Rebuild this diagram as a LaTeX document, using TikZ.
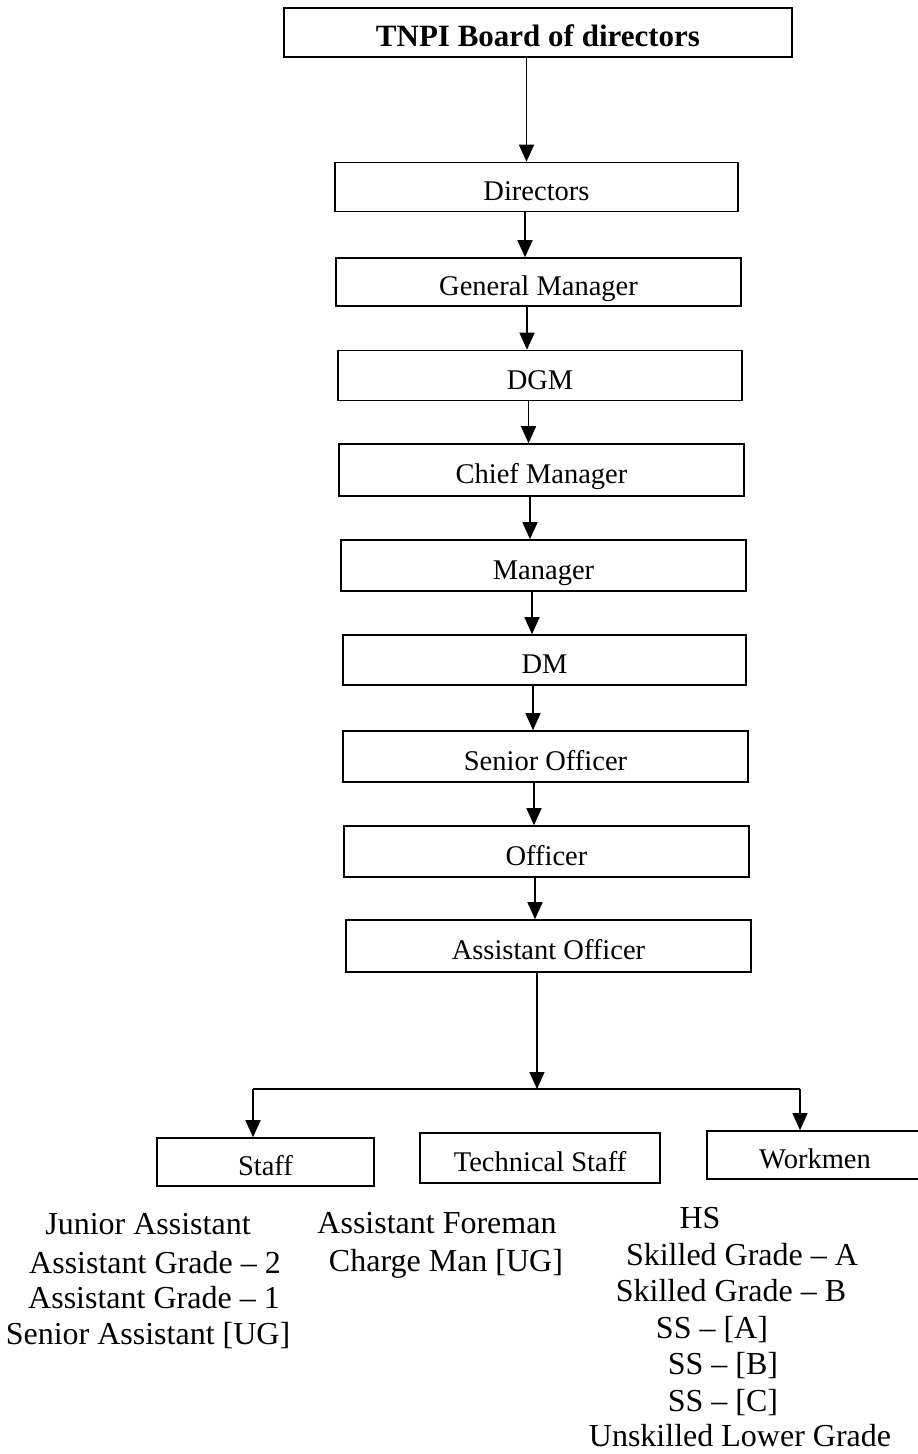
\documentclass[tikz,border=0pt]{standalone}
\usepackage{fontspec}
\setmainfont{Liberation Serif}
\usetikzlibrary{arrows.meta}
\newcommand\vlink[2]{\path ([xshift=-11.5pt]#1.south) coordinate (#1-out); \draw[arr] (#1-out) -- (#1-out |- #2.north);}
\begin{document}
\begin{tikzpicture}[x=1pt,y=-1pt,
  box/.style={draw, line width=1.6pt, inner sep=0pt, font=\fontsize{28.5}{34}\selectfont, text height=27pt, text depth=0pt, anchor=center},
  arr/.style={line width=1.5pt, -{Triangle[width=15pt,length=17pt]}},
  ln/.style={line width=1.5pt},
  item/.style={anchor=base, inner sep=0pt, font=\fontsize{32}{37}\selectfont}]
\useasboundingbox (0,0) rectangle (918,1454);
\fill[white] (0,0) rectangle (918,1454);

\node[box, minimum width=508pt, minimum height=49pt, font=\fontsize{31}{36}\selectfont\bfseries, text height=28pt] (board) at (538,32.5) {TNPI Board of directors};
\node[box, minimum width=403pt, minimum height=49pt] (dir) at (536.5,187) {Directors};
\node[box, minimum width=405pt, minimum height=48pt] (gm)  at (538.5,282) {General Manager};
\node[box, minimum width=404pt, minimum height=50pt] (dgm) at (540,375.5) {DGM};
\node[box, minimum width=405pt, minimum height=52pt] (cm)  at (541.5,470) {Chief Manager};
\node[box, minimum width=405pt, minimum height=51pt] (mgr) at (543.5,565.5) {Manager};
\node[box, minimum width=403pt, minimum height=50pt] (dm)  at (544.5,660) {DM};
\node[box, minimum width=405pt, minimum height=51pt] (so)  at (545.5,756.5) {Senior Officer};
\node[box, minimum width=405pt, minimum height=51pt] (off) at (546.5,851.5) {Officer};
\node[box, minimum width=405pt, minimum height=52pt] (ao)  at (548.5,946) {Assistant Officer};

\node[box, minimum width=217pt, minimum height=48pt] (staff) at (265.5,1162) {Staff};
\node[box, minimum width=240pt, minimum height=50pt] (tech)  at (540,1158) {Technical Staff};
\node[box, minimum width=216pt, minimum height=48pt] (work)  at (815,1155) {Workmen};

\vlink{board}{dir}
\vlink{dir}{gm}
\vlink{gm}{dgm}
\vlink{dgm}{cm}
\vlink{cm}{mgr}
\vlink{mgr}{dm}
\vlink{dm}{so}
\vlink{so}{off}
\vlink{off}{ao}

\coordinate (J) at (537,1089);
\coordinate (L) at (253,1089);
\coordinate (R) at (800,1089);
\draw[arr] (ao.south -| J) -- (J);
\draw[ln] (L) -- (R);
\draw[arr] (L) -- (L |- staff.north);
\draw[arr] (R) -- (R |- work.north);

\node[item] (s1) at (148,1234) {Junior Assistant};
\node[item] (s2) at (155,1273) {Assistant Grade – 2};
\node[item] (s3) at (154,1308) {Assistant Grade – 1};
\node[item] (s4) at (148,1344) {Senior Assistant [UG]};

\node[item] (t1) at (437,1233) {Assistant Foreman};
\node[item] (t2) at (446,1271) {Charge Man [UG]};

\node[item] (w1) at (700,1228) {HS};
\node[item] (w2) at (742,1265) {Skilled Grade – A};
\node[item] (w3) at (731,1301) {Skilled Grade – B};
\node[item] (w4) at (712,1338) {SS – [A]};
\node[item] (w5) at (723,1374) {SS – [B]};
\node[item] (w6) at (723,1411) {SS – [C]};
\node[item] (w7) at (740,1446) {Unskilled Lower Grade};
\end{tikzpicture}
\end{document}
